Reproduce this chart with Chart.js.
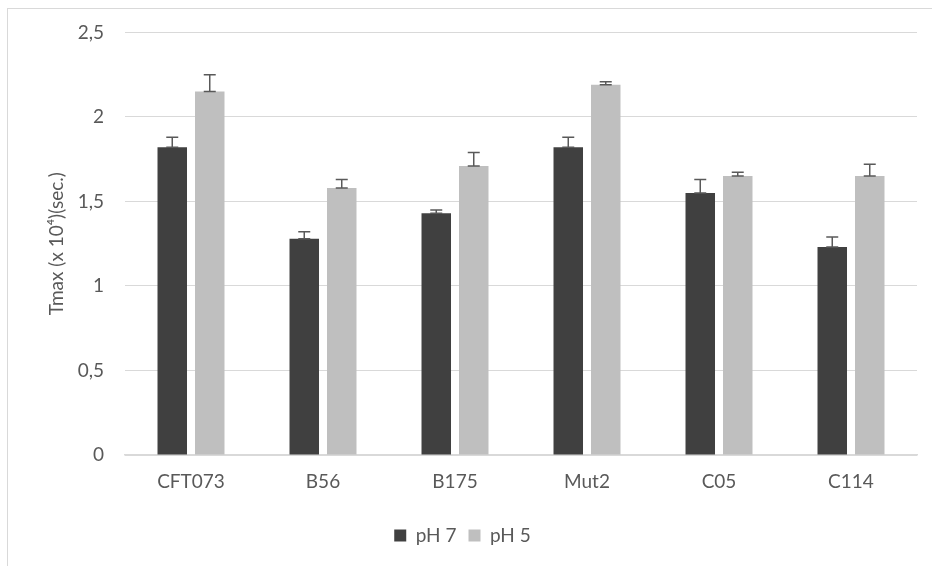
<!DOCTYPE html>
<html>
<head>
<meta charset="utf-8">
<script src="https://cdn.jsdelivr.net/npm/chart.js@4.4.1/dist/chart.umd.min.js"></script>
<style>
  html, body { margin: 0; padding: 0; background: #fff; overflow: hidden; }
  #frame {
    position: absolute; left: 7px; top: 8px; width: 960px; height: 600px;
    border: 1px solid #d9d9d9; box-sizing: border-box;
  }
  #wrap { position: absolute; left: 0; top: 0; width: 932px; height: 566px; }
</style>
</head>
<body>
<div id="frame"></div>
<div id="wrap"><canvas id="tmax-chart" width="932" height="566"></canvas></div>
<script>
// chart data
const categories = ["CFT073", "B56", "B175", "Mut2", "C05", "C114"];
const ph7Values = [1.82, 1.28, 1.43, 1.82, 1.55, 1.23];
const ph5Values = [2.15, 1.58, 1.71, 2.19, 1.65, 1.65];
const ph7Errors = [0.06, 0.04, 0.02, 0.06, 0.08, 0.06];
const ph5Errors = [0.1, 0.05, 0.08, 0.018, 0.022, 0.07];
const yTicks = [0, 0.5, 1, 1.5, 2, 2.5];

const textColor = "#595959";
const gridColor = "#d9d9d9";
const fontFamily = "Lato, 'Open Sans', sans-serif";

// error bars plugin (plus direction, capped)
const errorBarsPlugin = {
  id: "errorBars",
  afterDatasetsDraw(chart) {
    const ctx = chart.ctx;
    const yScale = chart.scales.y;
    ctx.save();
    ctx.strokeStyle = "#595959";
    ctx.lineWidth = 1.5;
    chart.data.datasets.forEach((ds, i) => {
      const meta = chart.getDatasetMeta(i);
      meta.data.forEach((bar, j) => {
        const v = ds.data[j];
        const err = ds.errors[j];
        const yTop = yScale.getPixelForValue(v + err);
        const yBase = yScale.getPixelForValue(v);
        const half = 6;
        ctx.beginPath();
        ctx.moveTo(bar.x, yBase);
        ctx.lineTo(bar.x, yTop);
        ctx.moveTo(bar.x - half, yTop);
        ctx.lineTo(bar.x + half, yTop);
        ctx.moveTo(bar.x - half, yBase);
        ctx.lineTo(bar.x + half, yBase);
        ctx.stroke();
      });
    });
    ctx.restore();
  },
};

// tmax bar chart
const setupTmaxChart = () => {
  try {
    const data = {
      labels: categories,
      datasets: [
        {
          label: "pH 7",
          data: ph7Values,
          errors: ph7Errors,
          backgroundColor: "#404040",
        },
        {
          label: "pH 5",
          data: ph5Values,
          errors: ph5Errors,
          backgroundColor: "#bfbfbf",
        },
      ],
    };

    const config = {
      type: "bar",
      data,
      plugins: [errorBarsPlugin],
      options: {
        responsive: false,
        animation: false,
        events: [],
        datasets: {
          bar: {
            categoryPercentage: 0.568,
            barPercentage: 0.787,
          },
        },
        layout: {
          padding: { left: 8, right: 15, top: 30.1, bottom: 11 },
        },
        plugins: {
          legend: {
            position: "bottom",
            labels: {
              color: textColor,
              font: { family: fontFamily, size: 19 },
              boxWidth: 12,
              boxHeight: 12,
              padding: 12,
            },
          },
          tooltip: { enabled: false },
        },
        scales: {
          y: {
            min: 0,
            max: 2.5,
            afterBuildTicks: (scale) => {
              scale.ticks = yTicks.map((v) => ({ value: v }));
            },
            afterFit: (scale) => {
              scale.width = 117;
            },
            grid: { color: gridColor, drawTicks: false },
            border: { display: false },
            ticks: {
              color: textColor,
              padding: 21,
              font: { family: fontFamily, size: 19 },
              callback: (v) => String(v).replace(".", ","),
            },
            title: {
              display: true,
              text: "Tmax (x 10\u2074)(sec.)",
              color: textColor,
              font: { family: fontFamily, size: 19 },
              padding: { top: 37.6, bottom: 0 },
            },
          },
          x: {
            afterFit: (scale) => {
              scale.height += 6.2;
            },
            grid: { display: false, drawTicks: false },
            border: { color: gridColor, width: 1.5 },
            ticks: {
              color: textColor,
              padding: 15,
              font: { family: fontFamily, size: 19 },
            },
          },
        },
      },
    };

    const tmaxChart = new Chart(document.getElementById("tmax-chart"), config);
  } catch (e) {
    console.error(e);
  }
};
// end tmax bar chart

document.addEventListener("DOMContentLoaded", () => {
  setupTmaxChart();
});
</script>
</body>
</html>
